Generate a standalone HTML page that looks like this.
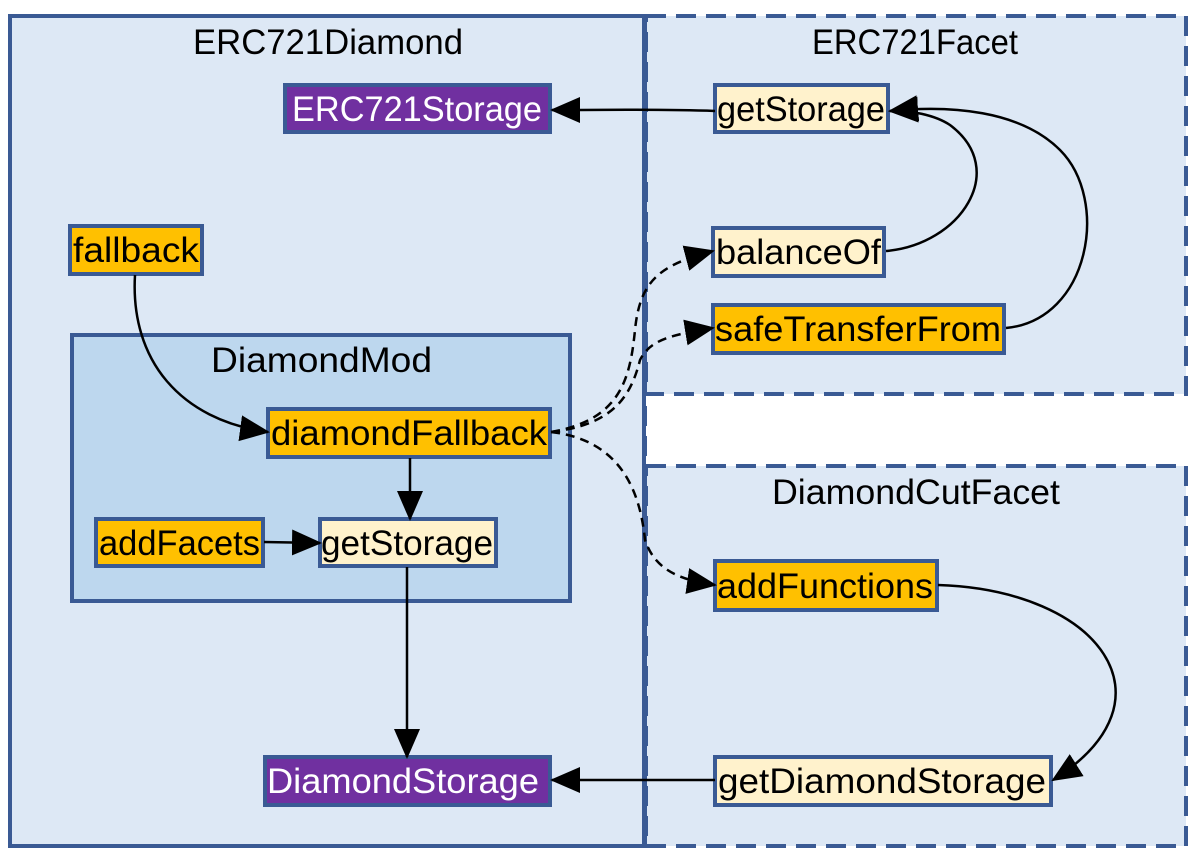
<!DOCTYPE html>
<html><head><meta charset="utf-8"><style>
html,body{margin:0;padding:0;background:#fff;}
svg{display:block;}
text{font-family:"Liberation Sans",sans-serif;font-size:35px;fill:#000;}
</style></head><body>
<svg width="1200" height="859" viewBox="0 0 1200 859" xmlns="http://www.w3.org/2000/svg">
<defs>
<marker id="a" viewBox="0 0 30 28" refX="28" refY="14" markerWidth="30" markerHeight="28" orient="auto" markerUnits="userSpaceOnUse">
<path d="M0,1 L30,14 L0,27 z" fill="#000"/>
</marker>
</defs>
<rect x="10" y="16" width="634" height="830" fill="#dde8f5" stroke="#3a5a94" stroke-width="4"/>
<rect x="646" y="16" width="540" height="378" fill="#dde8f5" stroke="#3a5a94" stroke-width="4" stroke-dasharray="20,10"/>
<rect x="646" y="466" width="540" height="380" fill="#dde8f5" stroke="#3a5a94" stroke-width="4" stroke-dasharray="20,10"/>
<line x1="645" y1="16" x2="645" y2="846" stroke="#3a5a94" stroke-width="4" stroke-dasharray="20,10"/>
<rect x="72" y="335" width="498" height="266" fill="#bdd7ee" stroke="#3a5a94" stroke-width="4"/>

<g lengthAdjust="spacingAndGlyphs">
<text x="193" y="54" textLength="270" lengthAdjust="spacingAndGlyphs">ERC721Diamond</text>
<text x="812" y="54" textLength="206" lengthAdjust="spacingAndGlyphs">ERC721Facet</text>
<text x="211" y="372" textLength="221" lengthAdjust="spacingAndGlyphs">DiamondMod</text>
<text x="772" y="504" textLength="288" lengthAdjust="spacingAndGlyphs">DiamondCutFacet</text>
</g>

<g stroke="#3a5a94" stroke-width="4">
<rect x="285" y="85" width="265" height="47" fill="#7030a0"/>
<rect x="715" y="85" width="173" height="47" fill="#fff2cc"/>
<rect x="70" y="226" width="132" height="48" fill="#ffc000"/>
<rect x="268" y="409" width="282" height="48" fill="#ffc000"/>
<rect x="96" y="519" width="167" height="47" fill="#ffc000"/>
<rect x="320" y="519" width="176" height="47" fill="#fff2cc"/>
<rect x="265" y="757" width="285" height="48" fill="#7030a0"/>
<rect x="713" y="228" width="171" height="48" fill="#fff2cc"/>
<rect x="713" y="305" width="291" height="48" fill="#ffc000"/>
<rect x="715" y="561" width="222" height="49" fill="#ffc000"/>
<rect x="715" y="757" width="336" height="48" fill="#fff2cc"/>
</g>
<text x="292" y="121" textLength="250" lengthAdjust="spacingAndGlyphs" style="fill:#fff">ERC721Storage</text>
<text x="717" y="121" textLength="168" lengthAdjust="spacingAndGlyphs">getStorage</text>
<text x="73" y="262" textLength="126" lengthAdjust="spacingAndGlyphs">fallback</text>
<text x="271" y="445" textLength="276" lengthAdjust="spacingAndGlyphs">diamondFallback</text>
<text x="99" y="555" textLength="161" lengthAdjust="spacingAndGlyphs">addFacets</text>
<text x="321" y="555" textLength="172" lengthAdjust="spacingAndGlyphs">getStorage</text>
<text x="267" y="793" textLength="272" lengthAdjust="spacingAndGlyphs" style="fill:#fff">DiamondStorage</text>
<text x="716" y="264" textLength="165" lengthAdjust="spacingAndGlyphs">balanceOf</text>
<text x="715" y="341" textLength="286" lengthAdjust="spacingAndGlyphs">safeTransferFrom</text>
<text x="717" y="598" textLength="216" lengthAdjust="spacingAndGlyphs">addFunctions</text>
<text x="718" y="793" textLength="328" lengthAdjust="spacingAndGlyphs">getDiamondStorage</text>

<g fill="none" stroke="#000" stroke-width="2.5">
<path d="M715,111 C660,109 620,110 552,110" marker-end="url(#a)"/>
<path d="M886,251 C960,245 1010,170 950,125 C935,115 910,110 890,111" marker-end="url(#a)"/>
<path d="M1006,328 C1090,320 1110,200 1060,150 C1020,110 950,105 890,111" marker-end="url(#a)"/>
<path d="M135,275 C130,360 180,420 268,432" marker-end="url(#a)"/>
<path d="M410,458 L410,519" marker-end="url(#a)"/>
<path d="M264,542 L320,543" marker-end="url(#a)"/>
<path d="M407,567 L407,757" marker-end="url(#a)"/>
<path d="M938,585 C1100,590 1180,700 1053,780" marker-end="url(#a)"/>
<path d="M715,780 L552,780" marker-end="url(#a)"/>
</g>
<g fill="none" stroke="#000" stroke-width="2.5" stroke-dasharray="9,6">
<path d="M551,432 C620,420 630,380 635,330 C640,280 660,265 713,251" marker-end="url(#a)"/>
<path d="M551,432 C610,425 630,400 640,360 C650,340 670,335 713,328" marker-end="url(#a)"/>
<path d="M551,432 C620,440 640,490 645,540 C655,570 680,580 715,585" marker-end="url(#a)"/>
</g>
</svg>
</body></html>
